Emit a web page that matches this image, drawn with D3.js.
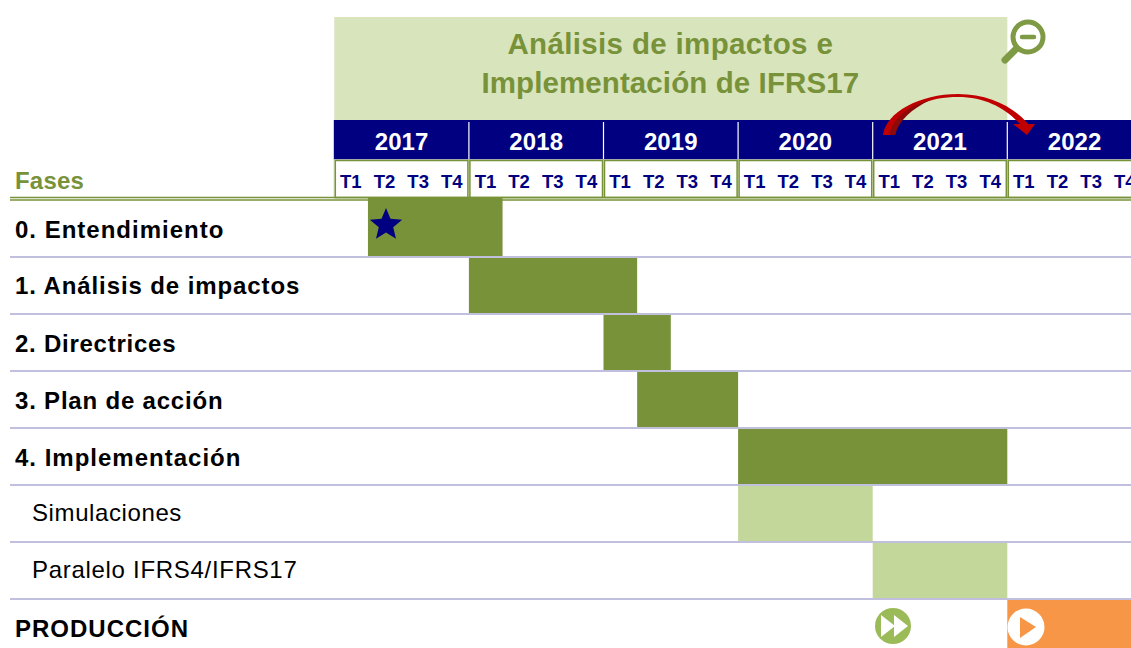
<!DOCTYPE html>
<html>
<head>
<meta charset="utf-8">
<script src="https://d3js.org/d3.v7.min.js"></script>
<style>
html, body { margin: 0; padding: 0; background: #fff; overflow: hidden; }
svg { display: block; }
text { font-family: "Liberation Sans", Arial, sans-serif; }
</style>
</head>
<body>
<div id="gantt"></div>
<script>
const width = 1131;
const height = 648;

const years = ["2017", "2018", "2019", "2020", "2021", "2022"];
const quarters = ["T1", "T2", "T3", "T4"];
const phases = ["0. Entendimiento", "1. Análisis de impactos", "2. Directrices", "3. Plan de acción", "4. Implementación", "Simulaciones", "Paralelo IFRS4/IFRS17", "PRODUCCIÓN"];
const phaseStart = [1, 4, 8, 9, 12, 12, 16, 20];
const phaseEnd = [5, 9, 10, 12, 20, 16, 20, 24];
const phaseKind = ["main", "main", "main", "main", "main", "sub", "sub", "prod"];
const titleLines = ["Análisis de impactos e", "Implementación de IFRS17"];

const green = "#78923a";
const lightGreen = "#c4d79b";
const navy = "#000080";
const fills = {main: green, sub: lightGreen, prod: "#f79646"};

const svg = d3.select("#gantt").append("svg")
    .attr("width", width)
    .attr("height", height);

// quarter number since 2017 T1 -> pixels
const x = d3.scaleLinear().domain([0, 24]).range([334.3, 1141.9]);
const y = d3.scaleBand().domain(phases).range([200, 656]);
const q = x(1) - x(0);

// title block
svg.append("rect")
    .attr("x", x(0)).attr("y", 17)
    .attr("width", x(20) - x(0)).attr("height", 103)
    .attr("fill", "#d8e4bc");

svg.selectAll(".title").data(titleLines).enter().append("text")
    .attr("class", "title")
    .attr("x", x(10) - 0.5)
    .attr("y", (d, i) => 54 + i * 38.5)
    .attr("text-anchor", "middle")
    .attr("font-size", 29.5)
    .attr("font-weight", "bold")
    .attr("letter-spacing", (d, i) => i == 0 ? 0.35 : 0.1)
    .attr("fill", green)
    .text(d => d);

// years band
svg.append("rect")
    .attr("x", x(0) - 0.5).attr("y", 120)
    .attr("width", width - x(0) + 0.5).attr("height", 39.5)
    .attr("fill", navy);

svg.selectAll(".yearSep").data(years.slice(1)).enter().append("line")
    .attr("class", "yearSep")
    .attr("x1", (d, i) => x((i + 1) * 4))
    .attr("x2", (d, i) => x((i + 1) * 4))
    .attr("y1", 122).attr("y2", 159)
    .attr("stroke", "#fff")
    .attr("stroke-width", 1.2);

svg.selectAll(".year").data(years).enter().append("text")
    .attr("class", "year")
    .attr("x", (d, i) => x(i * 4 + 2))
    .attr("y", 150)
    .attr("text-anchor", "middle")
    .attr("font-size", 24)
    .attr("font-weight", "bold")
    .attr("letter-spacing", 0.1)
    .attr("fill", "#fff")
    .text(d => d);

// quarter boxes: pale backing shows between the green borders of two years
svg.append("rect")
    .attr("x", x(0) - 1).attr("y", 159.5)
    .attr("width", width - x(0) + 1).attr("height", 39)
    .attr("fill", "#e4ebd4");

svg.selectAll(".qBox").data(years).enter().append("rect")
    .attr("class", "qBox")
    .attr("x", (d, i) => x(i * 4) + 1).attr("y", 160.5)
    .attr("width", 4 * q - 2).attr("height", 37)
    .attr("fill", "#fff")
    .attr("stroke", green)
    .attr("stroke-width", 1.5);

const quarterTicks = d3.range(24);
svg.selectAll(".quarter").data(quarterTicks).enter().append("text")
    .attr("class", "quarter")
    .attr("x", d => x(d) + q / 2 - 0.3)
    .attr("y", 188)
    .attr("text-anchor", "middle")
    .attr("font-size", 18.5)
    .attr("font-weight", "bold")
    .attr("fill", navy)
    .text(d => quarters[d % 4]);

// header text and rule
svg.append("text")
    .attr("x", 15).attr("y", 189)
    .attr("font-size", 24)
    .attr("font-weight", "bold")
    .attr("letter-spacing", 0.2)
    .attr("fill", green)
    .text("Fases");

svg.append("line")
    .attr("x1", 10).attr("x2", width)
    .attr("y1", 197.5).attr("y2", 197.5)
    .attr("stroke", green).attr("stroke-width", 1.5);
svg.append("line")
    .attr("x1", 10).attr("x2", width)
    .attr("y1", 200).attr("y2", 200)
    .attr("stroke", green).attr("stroke-width", 1.5);

// bars, the first one sits over the header rule
svg.selectAll(".bar").data(phases).enter().append("rect")
    .attr("class", "bar")
    .attr("x", (d, i) => x(phaseStart[i]))
    .attr("y", (d, i) => i == 0 ? y(d) - 2 : y(d))
    .attr("width", (d, i) => x(phaseEnd[i]) - x(phaseStart[i]))
    .attr("height", (d, i) => i == 0 ? y.bandwidth() + 2 : y.bandwidth())
    .attr("fill", (d, i) => fills[phaseKind[i]]);

// row rules
svg.selectAll(".rule").data(phases.slice(0, 7)).enter().append("line")
    .attr("class", "rule")
    .attr("x1", 10).attr("x2", width)
    .attr("y1", d => y(d) + y.bandwidth())
    .attr("y2", d => y(d) + y.bandwidth())
    .attr("stroke", "#c0c0de")
    .attr("stroke-width", 1.8);

// row labels
const labelShift = [9, 8, 9, 9, 9, 7, 7, 9];
const labelSpacing = [1, 0.9, 0.75, 0.8, 1, 0.6, 0.7, 1];
svg.selectAll(".phase").data(phases).enter().append("text")
    .attr("class", "phase")
    .attr("x", (d, i) => phaseKind[i] == "sub" ? 32 : 15)
    .attr("y", (d, i) => y(d) + y.bandwidth() / 2 + labelShift[i])
    .attr("font-size", 24)
    .attr("font-weight", (d, i) => phaseKind[i] == "sub" ? "normal" : "bold")
    .attr("letter-spacing", (d, i) => labelSpacing[i])
    .attr("fill", "#000")
    .text(d => d);

// star on the first bar
const starPoints = d3.range(10).map(i => [i * Math.PI / 5, i % 2 ? 7.6 : 17]);
svg.append("path")
    .attr("d", d3.lineRadial().curve(d3.curveLinearClosed)(starPoints))
    .attr("transform", "translate(386,225)")
    .attr("fill", navy);

// magnifier
const lensColor = "#7f9a45";
const lens = svg.append("g").attr("transform", "translate(1028,37)");
lens.append("circle").attr("r", 15).attr("fill", "#fff").attr("stroke", lensColor).attr("stroke-width", 5);
lens.append("line").attr("x1", -6).attr("x2", 6).attr("y1", 0).attr("y2", 0)
    .attr("stroke", lensColor).attr("stroke-width", 4.5).attr("stroke-linecap", "round");
lens.append("line").attr("x1", -13).attr("y1", 13).attr("x2", -23).attr("y2", 23)
    .attr("stroke", lensColor).attr("stroke-width", 7).attr("stroke-linecap", "round");

// curved arrow 2021 -> 2022, tail has a darker inner edge
svg.append("path")
    .attr("d", "M883,135 C886,112 920,94 958,94 C990,94 1015,108 1028,124 L1035,124 L1027,135 L1013,124 L1020,124 C1005,108 985,97 958,97 C930,97 902,106 895,135 Z")
    .attr("fill", "#c00000");
svg.append("path")
    .attr("d", "M889,135 C893,118 908,106 930,100 C912,109 899,120 895,135 Z")
    .attr("fill", "#8c0a0a");

// fast forward marker
const ff = svg.append("g").attr("transform", "translate(893,626)");
ff.append("circle").attr("r", 18).attr("fill", "#9bbb59");
ff.append("path").attr("d", "M-12,-11 L2,0 L-12,11 Z M1,-11 L15,0 L1,11 Z").attr("fill", "#fff");

// play marker
const play = svg.append("g").attr("transform", "translate(1026,627)");
play.append("circle").attr("r", 18.5).attr("fill", "#fff");
play.append("path").attr("d", "M-6,-10 L10,0 L-6,11 Z").attr("fill", "#f79646");
</script>
</body>
</html>
